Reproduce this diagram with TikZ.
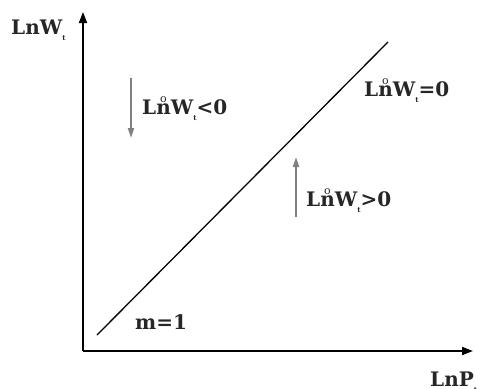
\documentclass[tikz,border=0pt]{standalone}
\usepackage{fontspec}
\setmainfont{DejaVu Serif}
\usetikzlibrary{arrows.meta}
\newcommand{\ringn}{\ooalign{n\cr\hidewidth\raisebox{0.6em}{\fontsize{11}{11}\selectfont\mdseries o}\hidewidth}}
\newcommand{\subt}{\raisebox{-0.3em}{\fontsize{7}{7}\selectfont t}}
\begin{document}
\begin{tikzpicture}[x=1pt,y=-1pt,
  lbl/.style={anchor=base west,inner sep=0pt,font=\fontsize{20}{20}\selectfont\bfseries,text=black!85},
  axis/.style={line width=1.8pt,-{Triangle[length=11pt,width=8pt]}},
  garrow/.style={line width=1.8pt,draw=black!50,-{Triangle[length=10pt,width=6pt]}}]
\useasboundingbox (0,0) rectangle (481,388);
\coordinate (origin) at (83,351);
\coordinate (ytip) at (83,12);
\coordinate (xtip) at (473,351);
\draw[axis] (origin) -- (ytip);
\draw[axis] (origin) -- (xtip);
\coordinate (d1) at (97,335);
\coordinate (d2) at (388,42);
\draw[line width=1.3pt] (d1) -- (d2);
\node[lbl] (ylab) at (11,34) {LnW\subt};
\node[lbl] (xlab) at (430,386) {LnP\subt};
\node[lbl] (neg) at (142,114) {L\ringn W\subt{}<0};
\node[lbl] (pos) at (306,206) {L\ringn W\subt{}>0};
\node[lbl] (zero) at (364,96) {L\ringn W\subt{}=0};
\node[lbl] (m) at (135,329) {m=1};
\coordinate (da) at (131,78);
\coordinate (db) at (131,138);
\draw[garrow] (da) -- (db);
\coordinate (ua) at (296,217);
\coordinate (ub) at (296,157);
\draw[garrow] (ua) -- (ub);
\end{tikzpicture}
\end{document}
